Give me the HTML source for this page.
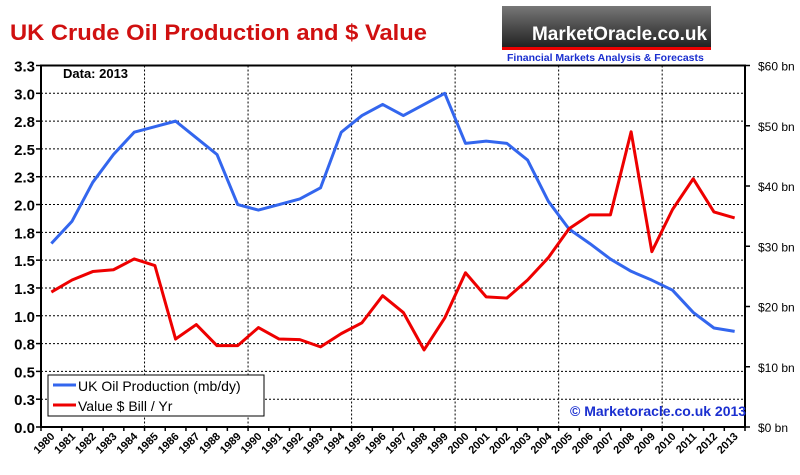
<!DOCTYPE html>
<html><head><meta charset="utf-8"><style>
body{margin:0;background:#fff;width:800px;height:475px;overflow:hidden;font-family:"Liberation Sans",Arial,sans-serif}
</style></head><body>
<svg id="chart" width="800" height="475" style="position:absolute;left:0;top:0;font-family:'Liberation Sans',Arial,sans-serif">
<text x="10" y="40" font-size="22" font-weight="bold" fill="#d01010" textLength="417" lengthAdjust="spacingAndGlyphs">UK Crude Oil Production and $ Value</text>
<g>
<defs><linearGradient id="lg" x1="0" y1="0" x2="0" y2="1"><stop offset="0" stop-color="#777"/><stop offset="1" stop-color="#222"/></linearGradient></defs>
<rect x="502" y="6" width="209" height="41" fill="url(#lg)"/>
<rect x="502" y="47" width="209" height="3" fill="#e00"/>
<text x="532" y="40" font-size="19" font-weight="bold" fill="#fff" textLength="175" lengthAdjust="spacingAndGlyphs">MarketOracle.co.uk</text>
<text x="507" y="61" font-size="10.5" font-weight="bold" fill="#1a2fd0">Financial Markets Analysis &amp; Forecasts</text>
</g>
<g id="grid"></g><g id="axes"></g><g id="series"></g>
<text x="63" y="78" font-size="13" font-weight="bold" fill="#000">Data: 2013</text>
<g>
<rect x="48" y="375" width="216" height="41" fill="#fff" stroke="#000"/>
<g><line x1="53" y1="385" x2="76" y2="385" stroke="#3366ee" stroke-width="3"/><text x="78" y="391" font-size="14">UK Oil Production (mb/dy)</text></g>
<g><line x1="53" y1="405" x2="76" y2="405" stroke="#ee0000" stroke-width="3"/><text x="78" y="411" font-size="14">Value $ Bill / Yr</text></g>
</g>
<text x="570" y="416" font-size="14" font-weight="bold" fill="#1a2fd0">© Marketoracle.co.uk 2013</text>
</svg>
<script>
const years=[1980,1981,1982,1983,1984,1985,1986,1987,1988,1989,1990,1991,1992,1993,1994,1995,1996,1997,1998,1999,2000,2001,2002,2003,2004,2005,2006,2007,2008,2009,2010,2011,2012,2013];
const production=[1.65,1.85,2.2,2.45,2.65,2.7,2.75,2.6,2.45,2.0,1.95,2.0,2.05,2.15,2.65,2.8,2.9,2.8,2.9,3.0,2.55,2.57,2.55,2.4,2.03,1.78,1.65,1.51,1.4,1.32,1.23,1.03,0.89,0.86];
const valueBn=[22.4,24.4,25.8,26.1,27.9,26.8,14.6,17,13.5,13.5,16.5,14.6,14.5,13.3,15.5,17.3,21.8,19,12.8,18.1,25.6,21.6,21.4,24.4,28.1,32.9,35.2,35.2,49,29.1,36.1,41.2,35.7,34.7];
const leftTicks=["0.0","0.3","0.5","0.8","1.0","1.3","1.5","1.8","2.0","2.3","2.5","2.8","3.0","3.3"];
const rightTicks=["$0 bn","$10 bn","$20 bn","$30 bn","$40 bn","$50 bn","$60 bn"];
const L=41,R=745,T=65.5,B=427,NS="http://www.w3.org/2000/svg";
const step=(R-L)/years.length;
const xC=i=>L+step*(i+0.5);
const yL=v=>B-(v/3.25)*(B-T);
const yR=v=>B-(v/60)*(B-T);
function mk(t,a,p){const e=document.createElementNS(NS,t);for(const k in a)e.setAttribute(k,a[k]);p.appendChild(e);return e;}
const grid=document.getElementById('grid'),axes=document.getElementById('axes'),ser=document.getElementById('series');
leftTicks.forEach((t,i)=>{const y=yL(i*0.25);
 if(i>0&&i<leftTicks.length-1){const g=mk('line',{x1:L,x2:R,y1:y,y2:y,stroke:'#000','stroke-width':1,'stroke-dasharray':'2,2'},grid);
 
 }
 const tx=mk('text',{x:35,y:y+6,'font-size':15,'font-weight':'bold','text-anchor':'end'},axes);tx.textContent=t;
 
 
 mk('line',{x1:L-5,x2:L,y1:y,y2:y,stroke:'#000','stroke-width':1.5},axes);
});
rightTicks.forEach((t,i)=>{const y=yR(i*10);
 const tx=mk('text',{x:758,y:y+5,'font-size':12},axes);tx.textContent=t;
 
 
 mk('line',{x1:R,x2:R+5,y1:y,y2:y,stroke:'#000','stroke-width':1.5},axes);
});
for(let i=5;i<years.length;i+=5){const x=L+step*i;
 const g=mk('line',{x1:x,x2:x,y1:T,y2:B,stroke:'#000','stroke-width':1,'stroke-dasharray':'2,2'},grid);
 
 }
for(let i=0;i<=years.length;i++){const x=L+step*i;mk('line',{x1:x,x2:x,y1:B,y2:B+4,stroke:'#000','stroke-width':1.5},axes);}
years.forEach((yr,i)=>{const x=xC(i);
 const tx=mk('text',{x:x+4,y:B+10,'font-size':11,'font-weight':'bold','text-anchor':'end',transform:`rotate(-45 ${x+4} ${B+10})`},axes);tx.textContent=yr;
 
 
});
const frame=mk('rect',{x:L,y:T,width:R-L,height:B-T,fill:'none',stroke:'#000','stroke-width':2},axes);


const p1=mk('polyline',{points:production.map((v,i)=>xC(i)+','+yL(v)).join(' '),fill:'none',stroke:'#3366ee','stroke-width':3,'stroke-linejoin':'round'},ser);


const p2=mk('polyline',{points:valueBn.map((v,i)=>xC(i)+','+yR(v)).join(' '),fill:'none',stroke:'#ee0000','stroke-width':3,'stroke-linejoin':'round'},ser);


</script>
</body></html>
